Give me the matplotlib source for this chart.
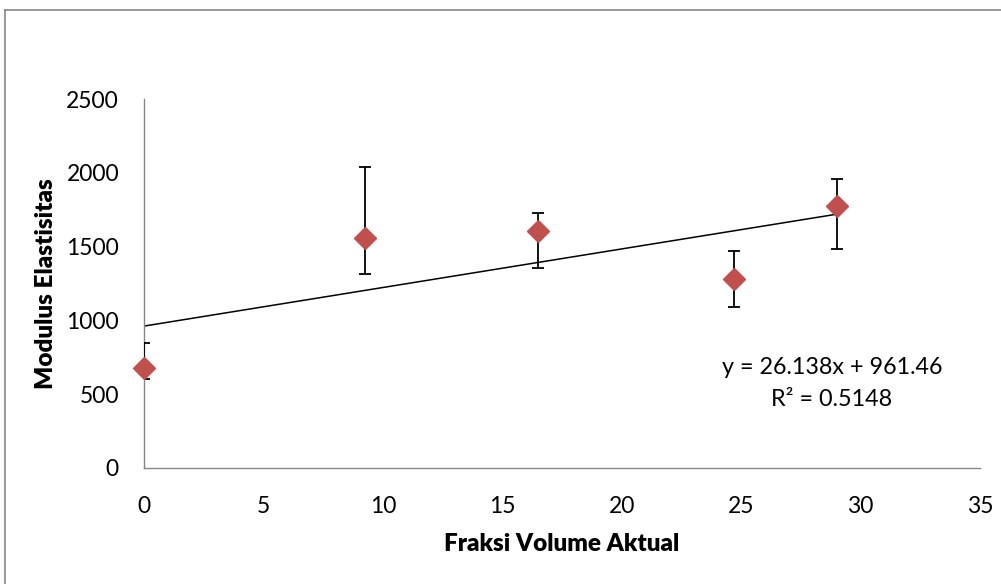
import numpy as np
import matplotlib
matplotlib.use("Agg")
import matplotlib.pyplot as plt
from matplotlib.lines import Line2D

# data
fraksi = [0.0, 9.25, 16.48, 24.7, 29.03]
modulus = [680, 1556, 1608, 1278, 1775]
err_low = [75, 242, 251, 185, 291]
err_high = [165, 481, 122, 192, 181]

slope = 26.138
intercept = 961.46
eq_text = "y = 26.138x + 961.46"
r2_text = "R² = 0.5148"

plt.rcParams['font.family'] = ['Lato', 'DejaVu Sans']

fig = plt.figure(figsize=(10.01, 5.84), dpi=100)
ax = fig.add_axes([144/1001, 1 - 468/584, (980 - 144)/1001, (468 - 99)/584])

# trendline
xt = np.array([0, max(fraksi)])
ax.plot(xt, slope*xt + intercept, color='black', lw=1.1, zorder=2)

ax.errorbar(fraksi, modulus, yerr=[err_low, err_high], fmt='none',
            ecolor='black', elinewidth=1.3, capsize=4.3, capthick=1.3, zorder=3)
ax.plot(fraksi, modulus, linestyle='none', marker='D', markersize=11.5,
        color='#C0504D', zorder=4, clip_on=False)

ax.set_xlim(0, 35)
ax.set_ylim(0, 2500)
ax.set_xticks(range(0, 36, 5))
ax.set_yticks(range(0, 2501, 500))
ax.tick_params(length=0, labelsize=16.5)
ax.tick_params(axis='x', pad=20)
ax.tick_params(axis='y', pad=18)

for s in ['top', 'right']:
    ax.spines[s].set_visible(False)
for s in ['left', 'bottom']:
    ax.spines[s].set_color('#868686')
    ax.spines[s].set_linewidth(1.0)

ax.set_xlabel("Fraksi Volume Aktual", fontsize=17.5, fontweight='heavy', labelpad=12)
ax.set_ylabel("Modulus Elastisitas", fontsize=17.5, fontweight='heavy', labelpad=7)

ax.text(832/1001, 1 - 367/584, eq_text, transform=fig.transFigure,
        ha='center', va='center', fontsize=16.8)
ax.text(832/1001, 1 - 400/584, r2_text, transform=fig.transFigure,
        ha='center', va='center', fontsize=16.8)

# chart area border (runs off the right and bottom edge)
fig.add_artist(Line2D([5/1001, 1.01], [1 - 10/584, 1 - 10/584],
                      transform=fig.transFigure, color='#868686', lw=1.2))
fig.add_artist(Line2D([5/1001, 5/1001], [1 - 10/584, -0.01],
                      transform=fig.transFigure, color='#868686', lw=1.2))

fig.savefig("out.png", dpi=100)
